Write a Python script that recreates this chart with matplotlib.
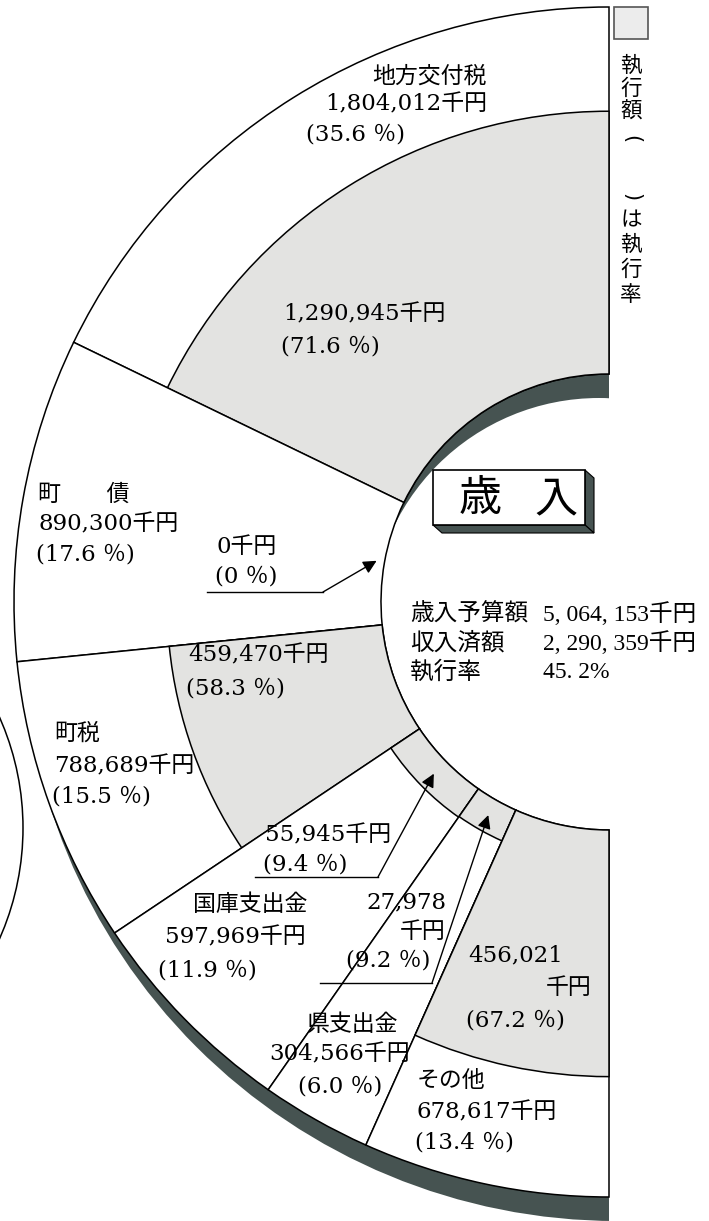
import numpy as np
import matplotlib
matplotlib.use('Agg')
import matplotlib.pyplot as plt
from matplotlib.patches import Wedge, Rectangle, Polygon, Circle

# ---- data ----
names = ['地方交付税', '町　　債', '町税', '国庫支出金', '県支出金', 'その他']
budget = [1804012, 890300, 788689, 597969, 304566, 678617]
budget_pct = [35.6, 17.6, 15.5, 11.9, 6.0, 13.4]
executed = [1290945, 0, 459470, 55945, 27978, 456021]
exec_rate = [71.6, 0, 58.3, 9.4, 9.2, 67.2]

total_budget = 5064153
total_received = 2290359
total_rate = 45.2

title = '歳入'
legend_text = '執行額()は執行率'

# ---- layout (pixels, y down) ----
cx, cy = 609, 602
R, r_in = 595, 228
shadow = '#465351'
gray = '#e3e3e1'
serif = ['DejaVu Serif', 'Noto Sans CJK JP']
serif2 = ['Liberation Serif', 'Noto Sans CJK JP']
cjk = ['Noto Sans CJK JP', 'DejaVu Sans']
fs = 16.5

# name / amount / pct line positions for each segment
budget_pos = [
    [(487, 77, 'right'), (487, 104, 'right'), (306, 135, 'left')],
    [(38, 495, 'left'), (38, 524, 'left'), (36, 555, 'left')],
    [(54, 734, 'left'), (54, 766, 'left'), (52, 797, 'left')],
    [(307, 905, 'right'), (306, 937, 'right'), (158, 970, 'left')],
    [(398, 1025, 'right'), (410, 1054, 'right'), (298, 1086, 'left')],
    [(417, 1081, 'left'), (417, 1112, 'left'), (415, 1143, 'left')],
]
# executed amount label lines
exec_pos = [
    [(283, 314, 'left'), None, (281, 347, 'left')],
    [(217, 547, 'left'), None, (215, 577, 'left')],
    [(188, 655, 'left'), None, (186, 688, 'left')],
    [(265, 835, 'left'), None, (263, 865, 'left')],
    [(446, 902, 'right'), (446, 932, 'right'), (346, 961, 'left')],
    [(468, 955, 'left'), (592, 988, 'right'), (466, 1020, 'left')],
]
# callout leader lines: start of underline, elbow
callouts = {1: ((207, 592), (323, 592)),
            3: ((255, 877), (378, 877)),
            4: ((320, 983), (432, 983))}
legend_y = [66, 89, 112, 139, 197, 220, 245, 270, 295]


def pt(a, r, x0=cx, y0=cy):
    t = np.radians(a)
    return x0 + r * np.cos(t), y0 - r * np.sin(t)


def wedge(a1, a2, r, width=None, x0=cx, y0=cy, **kw):
    return Wedge((x0, y0), r, -a2, -a1, width=width, **kw)


fig = plt.figure(figsize=(7.09, 12.21), dpi=100)
ax = fig.add_axes([0, 0, 1, 1])
ax.set_xlim(0, 709)
ax.set_ylim(1221, 0)
ax.axis('off')

clip = Rectangle((0, 0), cx, 1221, transform=ax.transData)

# drop shadow of the ring
sh = wedge(90, 270, R, x0=cx + 8, y0=cy + 24, facecolor=shadow, edgecolor='none')
ax.add_patch(sh)
sh.set_clip_path(clip)

# hole with inner shadow crescent
hole = wedge(90, 270, r_in, facecolor=shadow, edgecolor='none')
ax.add_patch(hole)
hw = Circle((cx - 10, cy + 24), r_in, facecolor='white', edgecolor='none')
ax.add_patch(hw)
hw.set_clip_path(hole)

# ring segments
frac = np.array(budget) / sum(budget)
edges = 90 + np.concatenate([[0], np.cumsum(frac)]) * 180
mids = (edges[:-1] + edges[1:]) / 2
for i in range(len(names)):
    ax.add_patch(wedge(edges[i], edges[i + 1], R, width=R - r_in,
                       facecolor='white', edgecolor='black', lw=1.1))
    if exec_rate[i] > 0:
        w = exec_rate[i] / 100 * (R - r_in)
        ax.add_patch(wedge(edges[i], edges[i + 1], r_in + w, width=w,
                           facecolor=gray, edgecolor='black', lw=1.1))

# callouts with arrows
for i, (p0, p1) in callouts.items():
    w = exec_rate[i] / 100 * (R - r_in)
    tip = pt(mids[i], r_in + max(w / 2, 8))
    ax.plot([p0[0], p1[0]], [p0[1], p1[1]], color='black', lw=1.0)
    ax.annotate('', xy=tip, xytext=p1,
                arrowprops=dict(arrowstyle='-|>', color='black', lw=1.0,
                                mutation_scale=20, shrinkA=0, shrinkB=0))

# budget labels
for i in range(len(names)):
    lines = [names[i], f'{budget[i]:,}千円', f'({budget_pct[i]:.1f} ％)']
    for txt, pos in zip(lines, budget_pos[i]):
        x, y, ha = pos
        ax.text(x, y, txt, ha=ha, va='center', fontsize=fs, family=serif)

# executed labels
for i in range(len(names)):
    rate = f'{exec_rate[i]:.1f} ' if exec_rate[i] else '0 '
    if exec_pos[i][1] is None:
        lines = [f'{executed[i]:,}千円', None, f'({rate}％)']
    else:
        lines = [f'{executed[i]:,}', '千円', f'({rate}％)']
    for txt, pos in zip(lines, exec_pos[i]):
        if txt is None:
            continue
        x, y, ha = pos
        ax.text(x, y, txt, ha=ha, va='center', fontsize=fs, family=serif)

# title box with 3D edge
ax.add_patch(Polygon([(585, 470), (594, 478), (594, 533), (585, 525)],
                     closed=True, facecolor=shadow, edgecolor='black', lw=0.8))
ax.add_patch(Polygon([(433, 525), (585, 525), (594, 533), (442, 533)],
                     closed=True, facecolor=shadow, edgecolor='black', lw=0.8))
ax.add_patch(Rectangle((433, 470), 152, 55, facecolor='white',
                       edgecolor='black', lw=1.2))
ax.text(480, 499, title[0], ha='center', va='center', fontsize=31, family=cjk)
ax.text(556, 499, title[1], ha='center', va='center', fontsize=31, family=cjk)

# totals
fmt = lambda v: f'{v:,}'.replace(',', ', ')
summary = [('歳入予算額', fmt(total_budget) + '千円'),
           ('収入済額', fmt(total_received) + '千円'),
           ('執行率', f'{total_rate}'.replace('.', '. ') + '%')]
for k, (lab, val) in enumerate(summary):
    y = 614 + k * 29
    ax.text(410, y, lab, ha='left', va='center', fontsize=17, family=cjk)
    ax.text(543, y, val, ha='left', va='center', fontsize=17, family=serif2)

# legend (vertical writing, brackets turned)
ax.add_patch(Rectangle((614, 7), 34, 32, facecolor='#ececec',
                       edgecolor='#555555', lw=1.2))
for ch, y in zip(legend_text, legend_y):
    if ch in '()':
        ax.text(631, y, ch, ha='center', va='center', fontsize=15,
                family='DejaVu Sans', rotation=-90, rotation_mode='anchor')
    else:
        ax.text(631, y, ch, ha='center', va='center', fontsize=15.5, family=cjk)

# edge of the neighbouring chart
ax.add_patch(Circle((-250, 828), 273, facecolor='none', edgecolor='black', lw=1.1))

fig.savefig('out.png', dpi=100)
